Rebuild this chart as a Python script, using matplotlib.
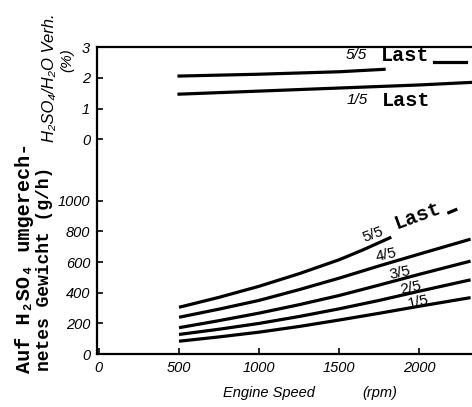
import matplotlib
matplotlib.use("Agg")
import matplotlib.pyplot as plt

# engine speed (rpm)
rpm = [500, 750, 1000, 1250, 1500, 1750, 2000, 2320]

# converted H2SO4 weight (g/h), per load
rpm_55 = [500, 750, 1000, 1250, 1500, 1650, 1825]
g_55 = [305, 370, 442, 524, 615, 680, 762]
g_45 = [240, 293, 350, 420, 495, 575, 652, 749]
g_35 = [172, 218, 267, 322, 382, 450, 520, 606]
g_25 = [128, 162, 200, 245, 295, 350, 410, 484]
g_15 = [84, 112, 143, 180, 222, 266, 312, 368]
tail_rpm_low = [2175, 2237]
tail_g_low = [918, 945]

# H2SO4/H2O ratio (%)
ratio_rpm_55 = [500, 1000, 1500, 1780]
ratio_55 = [2.06, 2.12, 2.2, 2.28]
tail_rpm_up = [2094, 2290]
tail_ratio_up = [2.51, 2.51]
ratio_rpm_15 = [500, 1000, 1500, 2000, 2350]
ratio_15 = [1.47, 1.57, 1.67, 1.77, 1.86]

lower_ticks = [0, 200, 400, 600, 800, 1000]
upper_ticks = [0, 1, 2, 3]
x_ticks = [0, 500, 1000, 1500, 2000]

UP0 = 1400   # where 0 % sits on the shared axis
UPS = 200    # axis units per 1 %


def up(vals):
    return [UP0 + UPS * v for v in vals]


narrow = ["Liberation Sans Narrow", "Liberation Sans", "DejaVu Sans"]
mono = ["Liberation Mono", "DejaVu Sans Mono"]

fig = plt.figure(figsize=(4.72, 4.07), dpi=100)
ax = fig.add_axes([0.2055, 0.130, 0.80, 0.754])

lw = 2.3
for xs, ys in [(rpm_55, g_55), (rpm, g_45), (rpm, g_35), (rpm, g_25), (rpm, g_15),
               (tail_rpm_low, tail_g_low)]:
    ax.plot(xs, ys, color="black", lw=lw, solid_capstyle="butt")
ax.plot(ratio_rpm_55, up(ratio_55), color="black", lw=lw)
ax.plot(tail_rpm_up, up(tail_ratio_up), color="black", lw=lw)
ax.plot(ratio_rpm_15, up(ratio_15), color="black", lw=lw)

ax.set_xlim(-12, 2345)
ax.set_ylim(0, 2000)

ax.spines["right"].set_visible(False)
for s in ["left", "bottom", "top"]:
    ax.spines[s].set_linewidth(1.6)

ax.set_xticks(x_ticks)
ax.set_xticklabels([str(t) for t in x_ticks])
ax.set_yticks(lower_ticks + up(upper_ticks))
ax.set_yticklabels([str(t) for t in lower_ticks] + [str(t) for t in upper_ticks])
ax.tick_params(direction="in", length=4, width=1.2, top=False, right=False)
ax.tick_params(axis="x", pad=5)
ax.tick_params(axis="y", pad=5)
for lab in ax.get_xticklabels() + ax.get_yticklabels():
    lab.set_family(narrow)
    lab.set_style("italic")
    lab.set_fontsize(10.5)

# curve labels, upper part
ax.text(1605, up([2.74])[0], "5/5", family=narrow, style="italic", fontsize=11,
        ha="center", va="center")
ax.text(1910, up([2.74])[0], "Last", family=mono, weight="bold", fontsize=14.5,
        ha="center", va="center")
ax.text(1610, up([1.27])[0], "1/5", family=narrow, style="italic", fontsize=11,
        ha="center", va="center")
ax.text(1915, up([1.27])[0], "Last", family=mono, weight="bold", fontsize=14.5,
        ha="center", va="center")

# curve labels, lower part
ax.text(1712, 780, "5/5", family=narrow, fontsize=11, rotation=20,
        ha="center", va="center")
ax.text(1990, 905, "Last", family=mono, weight="bold", fontsize=14.5, rotation=20,
        ha="center", va="center")
for xx, yy, t in [(1794, 648, "4/5"), (1881, 530, "3/5"), (1944, 432, "2/5"),
                  (1994, 341, "1/5")]:
    ax.text(xx, yy, t, family=narrow, fontsize=11, rotation=12,
            ha="center", va="center")

# axis titles
fig.text(49 / 472, 1 - 78 / 407, "H\u2082SO\u2084/H\u2082O Verh.", family=narrow,
         style="italic", fontsize=12, rotation=90, ha="center", va="center")
fig.text(67 / 472, 1 - 60 / 407, "(%)", family=narrow, style="italic",
         fontsize=11, rotation=90, ha="center", va="center")
fig.text(25 / 472, 1 - 258 / 407, "Auf H\u2082SO\u2084 umgerech-", family=mono,
         weight="bold", fontsize=14.5, rotation=90, ha="center", va="center")
fig.text(45 / 472, 1 - 269 / 407, "netes Gewicht (g/h)", family=mono,
         weight="bold", fontsize=13, rotation=90, ha="center", va="center")

fig.text(269 / 472, 1 - 393 / 407, "Engine Speed", family=narrow, style="italic",
         fontsize=10.5, ha="center", va="center")
fig.text(380 / 472, 1 - 393 / 407, "(rpm)", family=narrow, style="italic",
         fontsize=10.5, ha="center", va="center")

fig.savefig("out.png", dpi=100)
